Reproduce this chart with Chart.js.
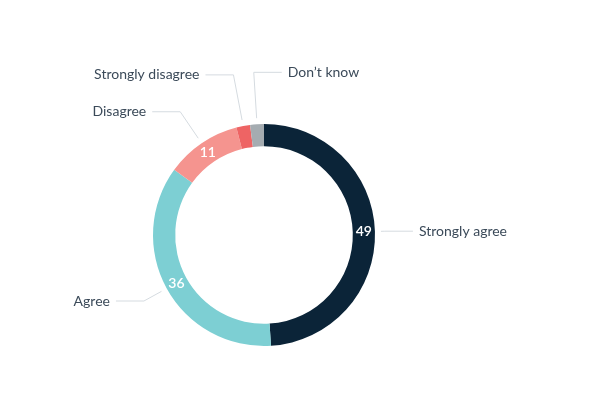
<!DOCTYPE html>
<html>
<head>
<meta charset="utf-8">
<script src="https://cdn.jsdelivr.net/npm/chart.js@4"></script>
<style>body{margin:0;background:#fff}</style>
</head>
<body>
<canvas id="c" width="600" height="400"></canvas>
<script>
const categories = ['Strongly agree', 'Agree', 'Disagree', 'Strongly disagree', "Don\u2019t know"];
const values = [49, 36, 11, 2, 2];
const colors = ['#0b2438', '#7dcfd3', '#f5948f', '#ee6464', '#a5acb1'];
// leader-line elbow distance beyond ring, and which side the label sits on
const elbowDist = [10, 26, 38, 52, 52];
const labelSide = [1, -1, -1, -1, 1];

const labelPlugin = {
  id: 'labels',
  afterDatasetsDraw(chart) {
    const ctx = chart.ctx;
    const meta = chart.getDatasetMeta(0);
    meta.data.forEach((arc, i) => {
      const mid = (arc.startAngle + arc.endAngle) / 2;
      const cx = arc.x, cy = arc.y;
      const ro = arc.outerRadius, ri = arc.innerRadius;
      // value inside ring
      if (values[i] > 5) {
        const rm = (ro + ri) / 2;
        ctx.fillStyle = '#fff';
        ctx.font = '600 14px Lato, "Open Sans", sans-serif';
        ctx.textAlign = 'center';
        ctx.textBaseline = 'middle';
        ctx.fillText(values[i], cx + Math.cos(mid) * rm, cy + Math.sin(mid) * rm);
      }
      const sx = cx + Math.cos(mid) * (ro + 6), sy = cy + Math.sin(mid) * (ro + 6);
      const ex = cx + Math.cos(mid) * (ro + elbowDist[i]), ey = cy + Math.sin(mid) * (ro + elbowDist[i]);
      const hx = ex + labelSide[i] * 28;
      ctx.strokeStyle = '#d5dbe0';
      ctx.lineWidth = 1;
      ctx.beginPath();
      ctx.moveTo(sx, sy);
      ctx.lineTo(ex, ey);
      ctx.lineTo(hx, ey);
      ctx.stroke();
      ctx.fillStyle = '#3b4a59';
      ctx.font = '14px Lato, "Open Sans", sans-serif';
      ctx.textAlign = labelSide[i] > 0 ? 'left' : 'right';
      ctx.textBaseline = 'middle';
      ctx.fillText(categories[i], hx + labelSide[i] * 6, ey);
    });
  }
};

new Chart(document.getElementById('c'), {
  type: 'doughnut',
  data: { labels: categories, datasets: [{ data: values, backgroundColor: colors, borderWidth: 0 }] },
  options: {
    responsive: false,
    animation: false,
    cutout: '80%',
    layout: { padding: { left: 153, right: 225, top: 124, bottom: 54 } },
    plugins: { legend: { display: false }, tooltip: { enabled: false } }
  },
  plugins: [labelPlugin]
});
</script>
</body>
</html>
